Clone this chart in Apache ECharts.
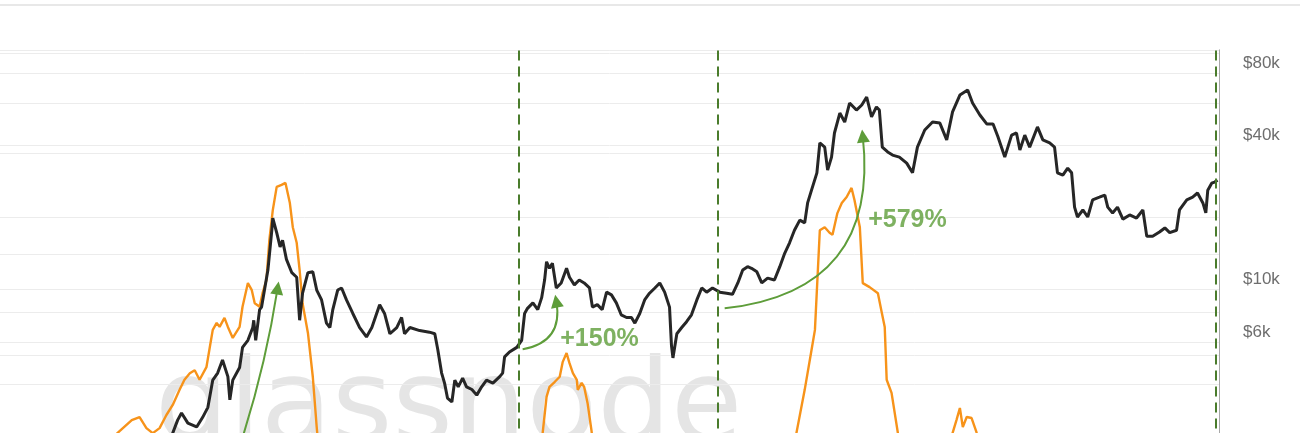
<!DOCTYPE html>
<html>
<head>
<meta charset="utf-8">
<title>BTC price vs metric</title>
<script src="https://cdn.jsdelivr.net/npm/echarts@6/dist/echarts.min.js"></script>
<style>
  html, body { margin: 0; padding: 0; background: #fff; }
  #chart { width: 1300px; height: 433px; }
</style>
</head>
<body>
<div id="chart"></div>
<script>
// price (black, right log axis)
const priceDates = [
  '2017-04-15','2017-05-10','2017-05-26','2017-06-05','2017-06-13','2017-06-26','2017-07-14','2017-07-26',
  '2017-08-06','2017-08-16','2017-08-26','2017-09-05','2017-09-16','2017-09-20','2017-09-26','2017-10-10',
  '2017-10-16','2017-10-27','2017-11-06','2017-11-08','2017-11-12','2017-11-20','2017-11-24','2017-12-07',
  '2017-12-15','2017-12-17','2017-12-25','2018-01-01','2018-01-06','2018-01-14','2018-01-25','2018-02-04',
  '2018-02-10','2018-02-16','2018-02-27','2018-03-09','2018-03-17','2018-03-27','2018-04-06','2018-04-13',
  '2018-04-19','2018-04-29','2018-05-07','2018-05-17','2018-05-30','2018-06-13','2018-06-27','2018-07-08',
  '2018-07-24','2018-08-03','2018-08-14','2018-08-28','2018-09-07','2018-09-13','2018-09-24','2018-10-14',
  '2018-11-03','2018-11-14','2018-11-20','2018-11-28','2018-12-04','2018-12-10','2018-12-19','2018-12-25',
  '2019-01-01','2019-01-10','2019-01-18','2019-01-29','2019-02-08','2019-02-18','2019-02-28','2019-03-13',
  '2019-03-27','2019-04-02','2019-04-06','2019-04-16','2019-05-01','2019-05-11','2019-05-17','2019-05-23',
  '2019-06-03','2019-06-13','2019-06-21','2019-06-27','2019-07-01','2019-07-07','2019-07-13','2019-07-21',
  '2019-07-31','2019-08-11','2019-08-17','2019-08-27','2019-09-06','2019-09-16','2019-09-27','2019-10-03',
  '2019-10-13','2019-10-23','2019-11-01','2019-11-11','2019-11-21','2019-12-01','2019-12-12','2019-12-22',
  '2019-12-29','2020-01-08','2020-01-18','2020-01-28','2020-02-08','2020-02-18','2020-02-28','2020-03-09',
  '2020-03-13','2020-03-16','2020-03-24','2020-04-03','2020-04-13','2020-04-23','2020-05-04','2020-05-14',
  '2020-05-24','2020-06-05','2020-06-20','2020-07-04','2020-07-16','2020-07-27','2020-08-06','2020-08-16',
  '2020-08-24','2020-09-04','2020-09-14','2020-09-26','2020-10-10','2020-10-21','2020-10-31','2020-11-10',
  '2020-11-20','2020-12-01','2020-12-11','2020-12-17','2020-12-25','2021-01-05','2021-01-11','2021-01-21',
  '2021-01-27','2021-02-04','2021-02-10','2021-02-21','2021-03-03','2021-03-13','2021-03-27','2021-04-07',
  '2021-04-17','2021-04-27','2021-05-07','2021-05-13','2021-05-19','2021-05-30','2021-06-09','2021-06-23',
  '2021-07-08','2021-07-20','2021-07-30','2021-08-14','2021-08-30','2021-09-14','2021-09-28','2021-10-10',
  '2021-10-25','2021-11-10','2021-11-20','2021-12-05','2021-12-19','2022-01-01','2022-01-11','2022-01-25',
  '2022-02-08','2022-02-18','2022-02-25','2022-03-07','2022-03-17','2022-04-02','2022-04-13','2022-04-27',
  '2022-05-07','2022-05-13','2022-05-24','2022-06-03','2022-06-11','2022-06-17','2022-06-23','2022-07-04',
  '2022-07-14','2022-07-24','2022-08-07','2022-08-18','2022-08-24','2022-09-03','2022-09-13','2022-09-24',
  '2022-10-08','2022-10-22','2022-11-04','2022-11-12','2022-11-24','2022-12-08','2022-12-19','2022-12-29',
  '2023-01-12','2023-01-18','2023-02-02','2023-02-14','2023-02-24','2023-03-07','2023-03-13','2023-03-17',
  '2023-03-25','2023-03-31','2023-04-06'
];
const priceValues = [
  1200,1750,2500,2830,3030,2750,2650,2900,
  3200,4160,4450,5050,4300,3440,4160,4700,
  5700,6100,6900,7400,6100,8200,8400,12000,
  17600,19800,17200,15000,16000,13300,11700,11200,
  7400,9600,11700,11800,9900,9000,7200,6900,
  8200,9900,10100,9000,7900,6900,6300,6900,
  8600,7900,6500,6900,7600,6500,6900,6700,
  6600,6500,5600,4450,4040,3500,3370,4160,
  3900,4240,3900,3800,3600,3900,4160,4040,
  4300,4450,5200,5450,5700,6100,7900,8300,
  8750,8200,9200,10900,13000,12200,12800,10100,
  10600,12200,11200,10400,10900,10600,10100,8400,
  8600,8200,9700,9450,8750,7800,7600,7600,
  7200,7900,9000,9600,10100,10600,9700,8400,
  5800,5150,6500,6900,7300,7800,9000,10100,
  9700,10100,9700,9600,9500,10600,12000,12400,
  12200,11800,10600,11100,10900,12400,14100,15600,
  17600,19400,18900,22900,25900,30600,40800,39200,
  31400,35600,44900,54400,49900,59900,56000,58800,
  63500,52400,57700,56000,39200,37400,36300,35600,
  33600,30600,39200,46200,49900,49400,42000,55000,
  64700,67900,59900,53400,49000,49000,43300,35600,
  44000,44900,38100,44000,39200,47600,42000,40800,
  39200,30600,29900,32000,30600,22000,20000,21400,
  20000,23600,24200,24700,22000,20800,22000,19600,
  20400,19800,21400,16600,16600,17300,18000,17200,
  17600,21400,23600,24200,25200,22900,20800,25900,
  27700,28000,28500
];

// metric (orange, hidden left axis)
const metricDates = [
  '2016-12-15','2017-01-06','2017-02-06','2017-03-03','2017-03-19','2017-04-02','2017-04-15','2017-04-29',
  '2017-05-13','2017-05-26','2017-06-09','2017-06-19','2017-06-30','2017-07-10','2017-07-20','2017-08-03',
  '2017-08-10','2017-08-16','2017-08-24','2017-08-30','2017-09-09','2017-09-16','2017-09-26','2017-10-10',
  '2017-10-16','2017-10-27','2017-11-04','2017-11-10','2017-11-20','2017-11-26','2017-12-04','2017-12-10',
  '2017-12-17','2017-12-25','2018-01-04','2018-01-12','2018-01-21','2018-01-27','2018-02-04','2018-02-10',
  '2018-02-16','2018-02-27','2018-03-09','2018-03-17','2018-03-23','2018-05-27','2018-10-14','2019-03-27',
  '2019-06-17','2019-06-23','2019-07-01','2019-07-07','2019-07-18','2019-07-28','2019-08-03','2019-08-11',
  '2019-08-17','2019-08-24','2019-09-01','2019-09-03','2019-09-11','2019-09-16','2019-09-23','2019-10-01',
  '2019-10-09','2020-01-28','2020-06-20','2020-10-21','2020-11-14','2020-11-24','2020-12-11','2020-12-25',
  '2021-01-01','2021-01-11','2021-01-21','2021-01-31','2021-02-06','2021-02-16','2021-02-25','2021-03-07',
  '2021-03-17','2021-03-23','2021-04-03','2021-04-09','2021-04-23','2021-05-10','2021-05-18','2021-05-24',
  '2021-05-28','2021-06-07','2021-06-20','2021-06-28','2021-09-24','2021-10-10','2021-10-18','2021-10-25',
  '2021-10-31','2021-11-08','2021-11-18','2021-11-28','2021-12-11','2022-04-27','2022-11-15','2023-04-06'
];
const metricValues = [
  20.0,22.1,24.9,27.1,27.7,25.5,24.5,25.5,
  28.1,30.1,33.1,35.1,36.4,37.0,35.1,37.6,
  41.6,45.0,46.4,45.6,47.4,45.6,43.4,45.6,
  49.6,54.3,52.9,50.3,49.6,52.3,54.9,62.9,
  68.8,73.4,73.8,74.2,70.2,65.4,62.3,56.9,
  50.3,44.4,35.7,25.7,19.2,15.0,13.0,14.0,
  19.2,24.5,31.7,33.7,34.7,35.7,38.6,40.4,
  38.4,36.4,35.1,33.1,34.5,33.7,30.5,25.1,
  18.2,14.0,13.0,15.0,18.2,24.5,33.1,41.0,
  45.0,64.8,65.4,64.3,63.9,68.2,70.2,71.4,
  73.2,70.8,65.4,54.3,53.5,52.3,48.4,45.6,
  35.1,32.5,24.5,18.2,19.2,24.5,27.1,29.5,
  25.7,27.7,27.5,24.7,18.2,14.0,12.0,14.0
];

// dashed signal lines and annotations
const signalDates = ['2019-05-05', '2020-06-16', '2023-04-02'];
const arrowFrom = [['2017-09-16', 1590], ['2019-05-13', 5600], ['2020-06-30', 8300]];
const arrowTo = [['2017-12-27', 10100], ['2019-07-21', 8900], ['2021-04-09', 43600]];
const gainLabels = ['+150%', '+579%'];
const gainAt = [['2019-07-28', 6160], ['2021-04-19', 19400]];

// axis ticks
const priceGridValues = [100000, 80000, 60000, 40000, 20000, 10000, 8000, 6000, 4000, 2000, 1000];
const priceLabelValues = [80000, 40000, 10000, 6000, 2000];

function zip(a, b) {
  return a.map((d, i) => [d, b[i]]);
}

const chart = echarts.init(document.getElementById('chart'), null, { renderer: 'canvas' });

const option = {
  animation: false,
  backgroundColor: '#fff',
  grid: { left: 0, right: 81, top: 49.82, bottom: -123.5, containLabel: false, outerBoundsMode: 'none' },
  xAxis: {
    type: 'time',
    min: '2016-06-06',
    max: '2023-04-09',
    axisLine: { show: false },
    axisTick: { show: false },
    axisLabel: { show: false },
    splitLine: { show: false }
  },
  yAxis: [
    {
      type: 'log',
      position: 'right',
      min: 761.3,
      max: 100000,
      axisLine: { show: true, lineStyle: { color: '#a8a8a8', width: 1 } },
      axisTick: { show: false, customValues: priceGridValues },
      axisLabel: {
        customValues: priceLabelValues,
        margin: 24,
        color: '#6e6e6e',
        fontSize: 17,
        fontFamily: 'Liberation Sans, Arial, sans-serif',
        verticalAlign: 'bottom',
        lineHeight: 20,
        formatter: v => '$' + Math.round(v / 1000) + 'k'
      },
      splitLine: { show: true, lineStyle: { color: '#ececec', width: 1 } }
    },
    {
      type: 'value',
      position: 'left',
      min: 0,
      max: 100.63,
      interval: 20,
      axisLine: { show: false },
      axisTick: { show: false },
      axisLabel: { show: false },
      splitLine: { show: true, lineStyle: { color: '#ececec', width: 1 } }
    }
  ],
  graphic: [
    {
      type: 'line',
      shape: { x1: 0, y1: 5, x2: 1300, y2: 5 },
      style: { stroke: '#e0e0e0', lineWidth: 1.5 },
      silent: true
    },
    {
      // watermark
      type: 'text',
      x: 155,
      y: 411,
      silent: true,
      style: {
        text: 'glassnode',
        font: '116px "DejaVu Sans"',
        fill: '#e5e5e5',
        align: 'left',
        verticalAlign: 'middle'
      }
    }
  ],
  series: [
    {
      name: 'metric',
      type: 'line',
      yAxisIndex: 1,
      showSymbol: false,
      data: zip(metricDates, metricValues),
      lineStyle: { color: '#f7931a', width: 2.4 },
      z: 2
    },
    {
      name: 'price',
      type: 'line',
      yAxisIndex: 0,
      showSymbol: false,
      data: zip(priceDates, priceValues),
      lineStyle: { color: '#262626', width: 3 },
      z: 3,
      markLine: {
        silent: true,
        symbol: ['none', 'none'],
        label: { show: false },
        lineStyle: { color: '#4a7c2c', width: 2, type: [10, 6] },
        data: signalDates.map(d => ({ xAxis: d }))
      }
    },
    {
      name: 'arrows',
      type: 'lines',
      coordinateSystem: 'cartesian2d',
      yAxisIndex: 0,
      symbol: ['none', 'triangle'],
      symbolSize: [10, 13],
      z: 4,
      data: arrowFrom.map((p, i) => ({
        coords: [p, arrowTo[i]],
        lineStyle: { curveness: i === 0 ? -0.05 : -0.5 }
      })),
      lineStyle: { color: '#5e9d3a', width: 2, opacity: 1 }
    },
    {
      name: 'gains',
      type: 'scatter',
      yAxisIndex: 0,
      symbolSize: 1,
      itemStyle: { color: 'rgba(0,0,0,0)' },
      z: 5,
      data: gainAt,
      label: {
        show: true,
        position: 'right',
        distance: 0,
        color: '#5e9d3a',
        fontSize: 25,
        fontWeight: 'bold',
        fontFamily: 'Liberation Sans, Arial, sans-serif',
        formatter: p => gainLabels[p.dataIndex]
      }
    }
  ]
};

chart.setOption(option);
</script>
</body>
</html>
